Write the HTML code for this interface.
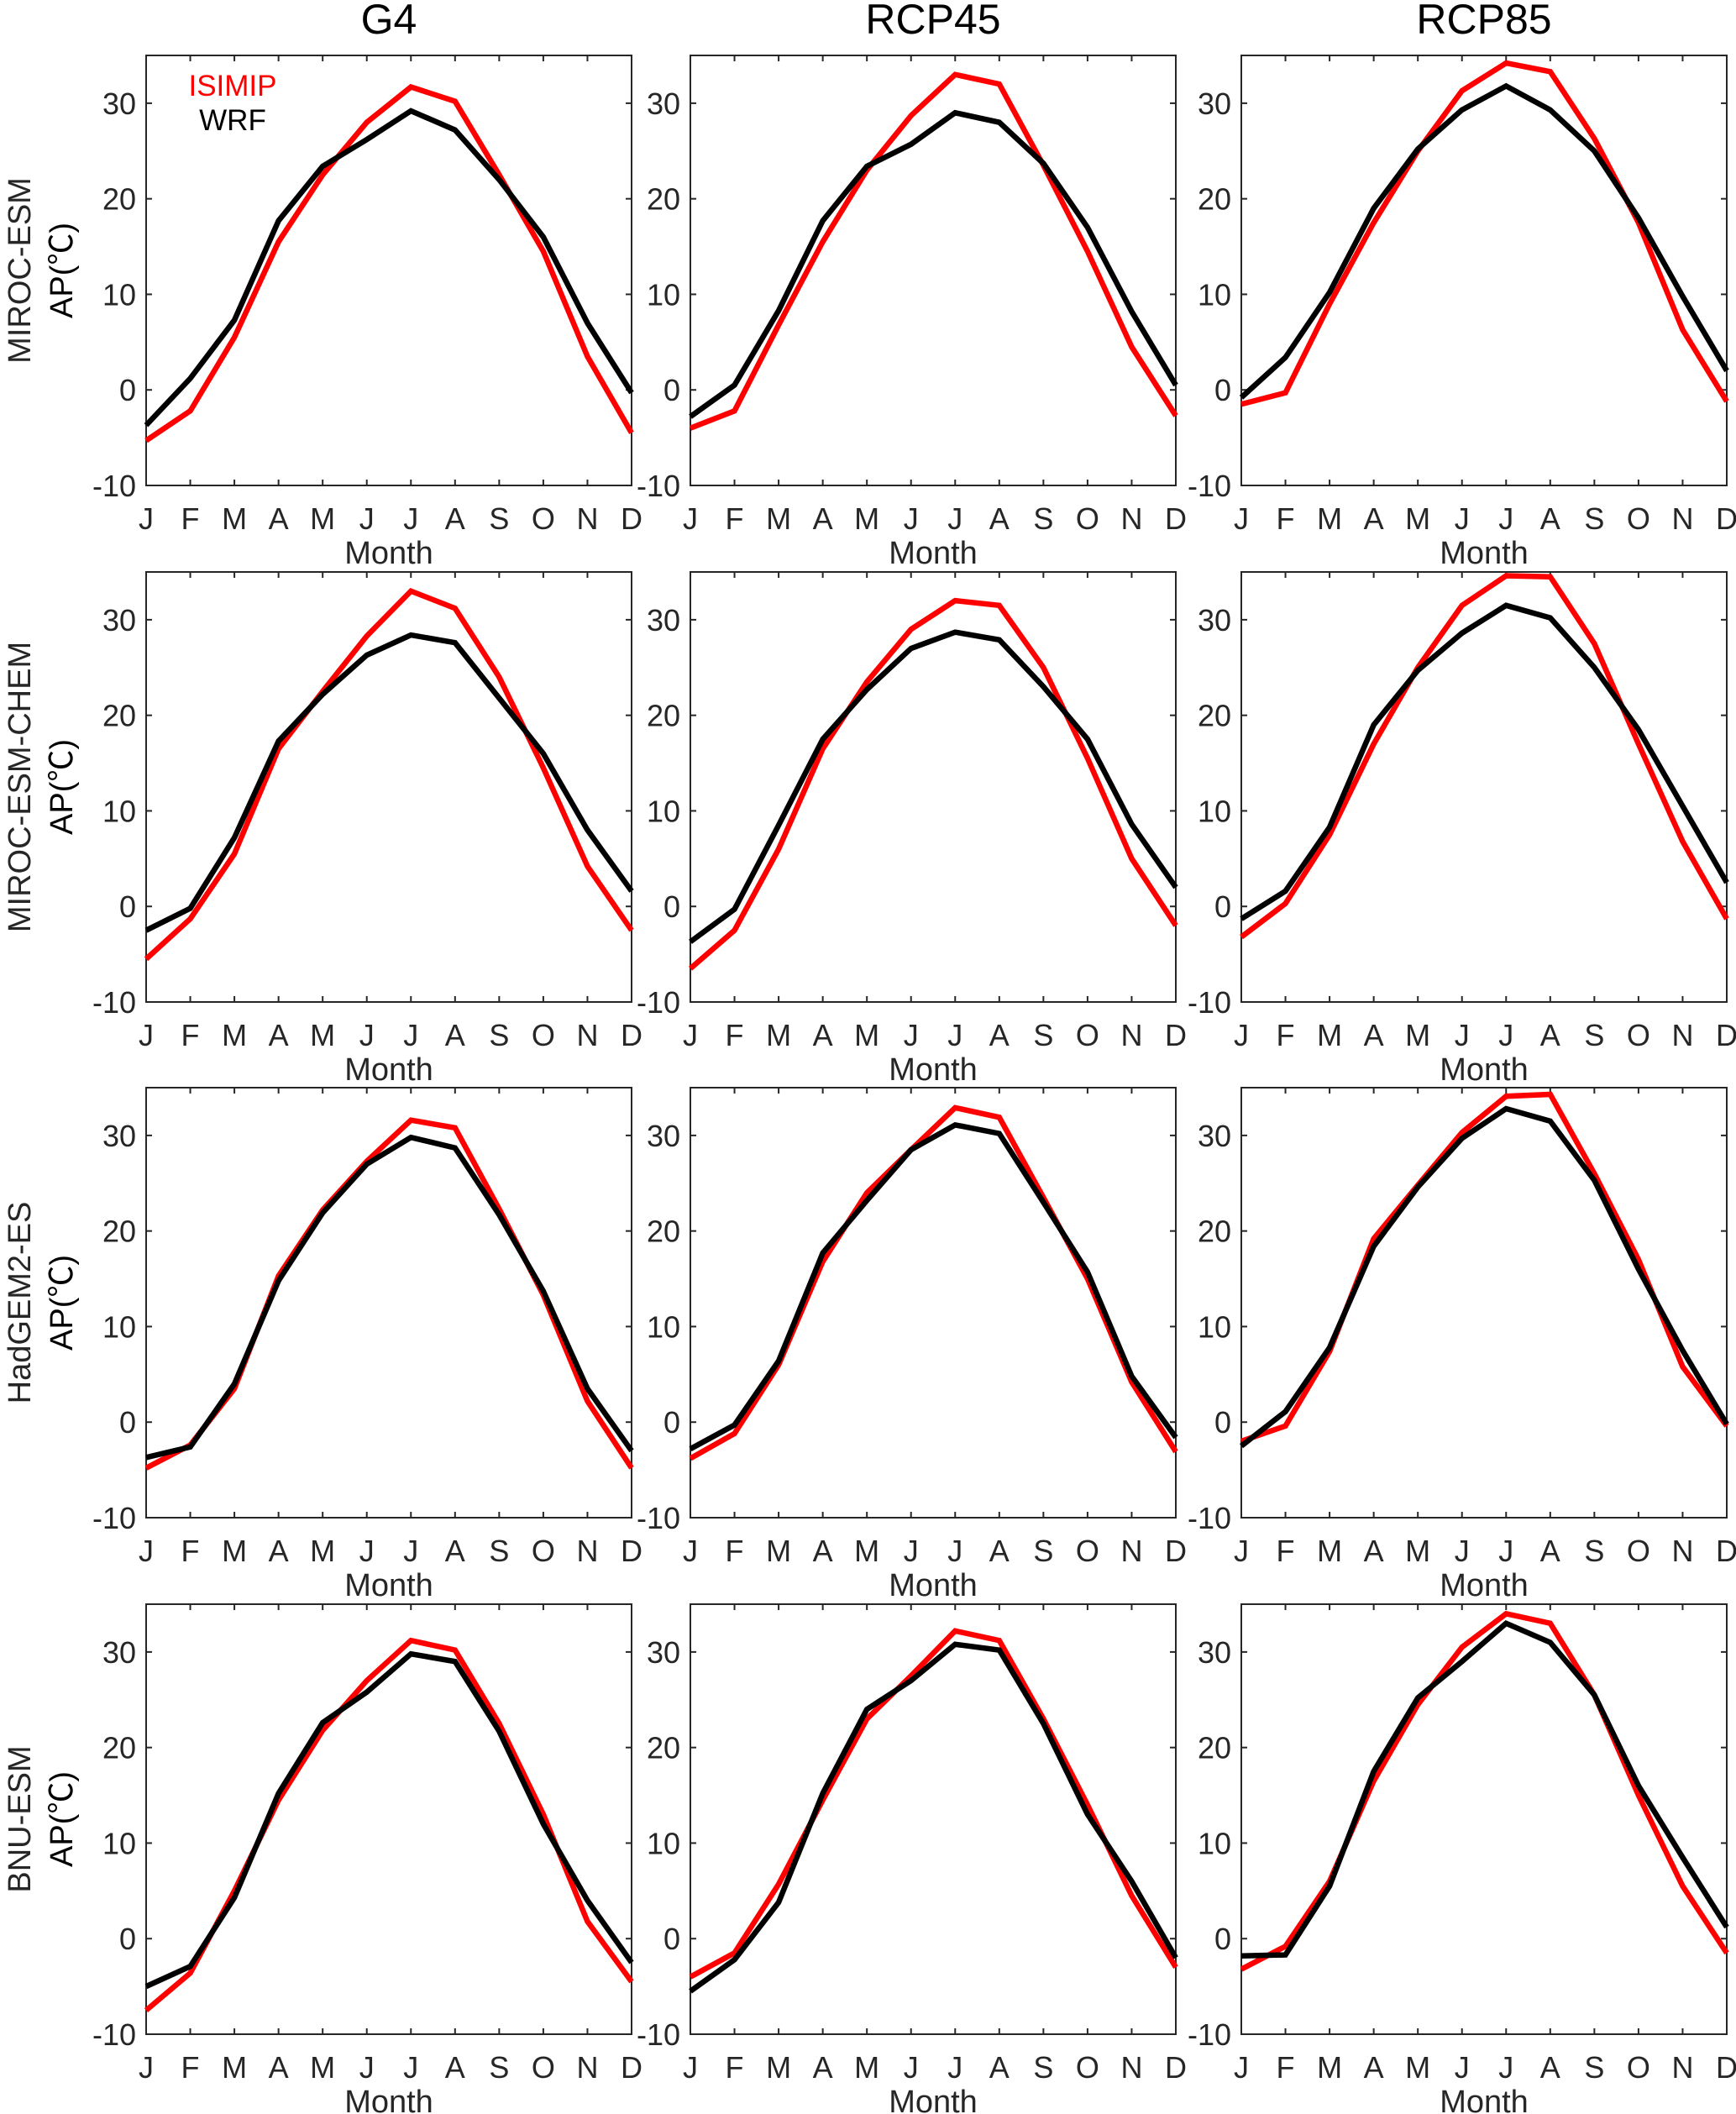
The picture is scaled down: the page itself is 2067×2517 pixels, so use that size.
<!DOCTYPE html>
<html><head><meta charset="utf-8"><style>
html,body{margin:0;padding:0;background:#fff;}
svg{display:block;font-family:"Liberation Sans","Noto Sans CJK SC",sans-serif;}
</style></head><body>
<svg id="fig" width="2067" height="2517" viewBox="0 0 2067 2517" xmlns="http://www.w3.org/2000/svg"></svg>
<script>
const months = ["J","F","M","A","M","J","J","A","S","O","N","D"];
const yTicks = [-10,0,10,20,30];
const scenarios = ["G4","RCP45","RCP85"];
const models = ["MIROC-ESM","MIROC-ESM-CHEM","HadGEM2-ES","BNU-ESM"];
const isimipData = [
 [-5.3,-2.2,5.5,15.5,22.5,28,31.7,30.2,22.5,14.5,3.5,-4.5],
 [-4,-2.2,6.8,15.5,23,28.7,33,32,23.5,14.5,4.5,-2.7],
 [-1.5,-0.3,9,17.5,25,31.3,34.2,33.3,26.3,17.5,6.3,-1.2],
 [-5.5,-1.3,5.5,16.5,22.5,28.3,33,31.2,24,14.5,4.2,-2.5],
 [-6.5,-2.5,6,16.5,23.5,29,32,31.5,25,15.5,5,-2],
 [-3.2,0.3,7.5,17,25,31.5,34.6,34.5,27.5,17,6.8,-1.3],
 [-4.8,-2.4,3.5,15.3,22.2,27.3,31.6,30.8,22.3,13.3,2.2,-4.8],
 [-3.8,-1.2,6,16.8,24,28.5,32.9,31.9,23.5,15,4.2,-3.1],
 [-2,-0.4,7.4,19.2,24.8,30.3,34.1,34.3,26,17,5.8,-0.4],
 [-7.5,-3.6,5,14.5,21.8,27,31.2,30.2,22.5,13,1.8,-4.5],
 [-4,-1.5,5.7,14.5,23,27.5,32.2,31.2,23,14,4.5,-3],
 [-3.2,-0.8,6,16.5,24.5,30.5,34,33,25.5,15,5.5,-1.5]
];
const wrfData = [
 [-3.7,1.2,7.3,17.7,23.4,26.2,29.2,27.2,22,16,7,-0.3],
 [-2.8,0.5,8.3,17.7,23.4,25.7,29,28,23.7,17,8.2,0.5],
 [-0.8,3.4,10.2,19,25.2,29.3,31.8,29.3,25,18,9.8,2],
 [-2.5,-0.2,7.2,17.3,22.2,26.3,28.4,27.6,21.8,16,8,1.6],
 [-3.7,-0.3,8.5,17.5,22.7,27,28.7,27.9,23,17.5,8.6,2],
 [-1.3,1.6,8.3,19,24.7,28.6,31.5,30.2,25,18.5,10.5,2.5],
 [-3.7,-2.6,4,14.8,21.9,27,29.8,28.7,21.7,13.7,3.5,-3],
 [-2.8,-0.3,6.4,17.7,23.2,28.5,31.1,30.2,23,15.7,4.8,-1.6],
 [-2.5,1.1,7.8,18.4,24.6,29.7,32.8,31.5,25.3,16,7.5,-0.2],
 [-5,-2.9,4.3,15.2,22.6,25.8,29.8,29,21.7,12,4,-2.5],
 [-5.5,-2.2,3.8,15.2,24,27,30.8,30.2,22.5,13,6,-2],
 [-1.8,-1.7,5.5,17.5,25.2,29,33,31,25.5,16,8.5,1.2]
];
const NS="http://www.w3.org/2000/svg";
const svg=document.getElementById('fig');
function mk(tag,attrs,parent){const e=document.createElementNS(NS,tag);for(const k in attrs)e.setAttribute(k,attrs[k]);(parent||svg).appendChild(e);return e;}
const colX=[174,822,1478], rowY=[66,681,1295,1910], W=578, H=512, YMIN=-10, YMAX=35;
const ink="#262626";
scenarios.forEach((s,c)=>{
  const t=mk('text',{x:colX[c]+W/2,y:40,'text-anchor':'middle','font-size':50,fill:'#000'});
  t.textContent=s;
  
  
});
models.forEach((m,r)=>{
  const cy=rowY[r]+H/2;
  const t=mk('text',{x:0,y:0,transform:`translate(36,${cy}) rotate(-90)`,'text-anchor':'middle','font-size':38,fill:ink});
  t.textContent=m;
  
  
  const t2=mk('text',{x:0,y:0,transform:`translate(86,${cy}) rotate(-90)`,'text-anchor':'middle','font-size':38,fill:'#000'});
  t2.textContent='AP(℃)';
  
  
});
for(let r=0;r<4;r++)for(let c=0;c<3;c++){
  const idx=r*3+c, x0=colX[c], y0=rowY[r];
  const g=mk('g',{});
  
  
  const xs=i=>x0+i*W/11, ys=v=>y0+H-(v-YMIN)/(YMAX-YMIN)*H;
  const frame=mk('rect',{x:x0,y:y0,width:W,height:H,fill:'none',stroke:ink,'stroke-width':2},g);
  
  
  yTicks.forEach(v=>{
    const y=ys(v);
    mk('line',{x1:x0,x2:x0+7,y1:y,y2:y,stroke:ink,'stroke-width':2},g);
    mk('line',{x1:x0+W-7,x2:x0+W,y1:y,y2:y,stroke:ink,'stroke-width':2},g);
    const t=mk('text',{x:x0-12,y:y+13,'text-anchor':'end','font-size':36,fill:ink},g);
    t.textContent=v;
    
    
  });
  months.forEach((m,i)=>{
    const x=xs(i);
    mk('line',{x1:x,x2:x,y1:y0+H,y2:y0+H-7,stroke:ink,'stroke-width':2},g);
    mk('line',{x1:x,x2:x,y1:y0,y2:y0+7,stroke:ink,'stroke-width':2},g);
    const t=mk('text',{x:x,y:y0+H+52,'text-anchor':'middle','font-size':36,fill:ink},g);
    t.textContent=m;
    
    
  });
  const xt=mk('text',{x:x0+W/2,y:y0+H+93,'text-anchor':'middle','font-size':38,fill:ink},g);
  xt.textContent='Month';
  
  
  const red=mk('polyline',{points:isimipData[idx].map((v,i)=>xs(i)+','+ys(v)).join(' '),fill:'none',stroke:'#ff0000','stroke-width':6.5,'stroke-linejoin':'miter'},g);
  
  
  const blk=mk('polyline',{points:wrfData[idx].map((v,i)=>xs(i)+','+ys(v)).join(' '),fill:'none',stroke:'#000','stroke-width':6.5,'stroke-linejoin':'miter'},g);
  
  
}
const l1=mk('text',{x:277,y:114,'text-anchor':'middle','font-size':35,fill:'#ff0000'});
l1.textContent='ISIMIP';


const l2=mk('text',{x:277,y:155,'text-anchor':'middle','font-size':35,fill:'#000'});
l2.textContent='WRF';


</script>
</body></html>
